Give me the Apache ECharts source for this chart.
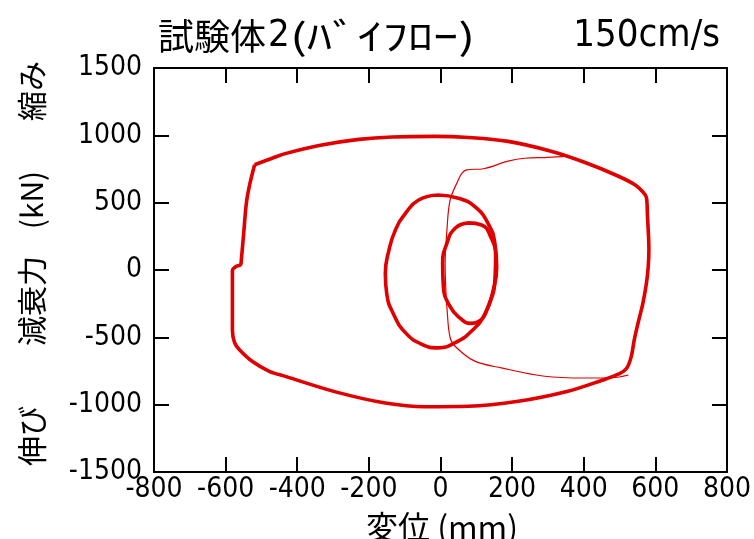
<!DOCTYPE html>
<html>
<head>
<meta charset="utf-8">
<script src="https://cdn.jsdelivr.net/npm/echarts@6/dist/echarts.min.js"></script>
<style>
  html, body { margin: 0; padding: 0; background: #fff; }
  #chart { width: 754px; height: 539px; }
</style>
</head>
<body>
<div id="chart"></div>
<script>
// Damping force vs. displacement, test piece 2
const xTicks = { min: -800, max: 800, step: 200 };
const yTicks = { min: -1500, max: 1500, step: 500 };

// Large-stroke loop [displacement mm, force kN]
const outerLoop = [
  [-519, 782], [-470, 830], [-431, 866], [-339, 925], [-228, 970], [-135, 988],
  [-15, 992], [78, 984], [189, 955], [309, 882], [402, 800], [494, 700],
  [545, 630], [565, 580], [575, 540], [578, 400], [582, 150], [580, 20],
  [575, -100], [565, -250], [553, -380], [541, -520], [533, -640], [520, -730],
  [500, -770], [448, -822], [356, -900], [217, -975], [78, -1012], [-43, -1015],
  [-154, -988], [-293, -905], [-431, -792], [-478, -752], [-525, -680],
  [-562, -590], [-575, -540], [-581, -450], [-581, -228], [-581, -4],
  [-572, 24], [-558, 40], [-556, 80], [-550, 258], [-542, 497], [-533, 632],
  [-519, 782]
];

// Medium-stroke loop
const middleLoop = [
  [-6, 557], [50, 533], [96, 470], [133, 345], [152, 196], [157, 21],
  [147, -153], [124, -328], [87, -453], [41, -540], [-6, -578], [-52, -552],
  [-98, -465], [-131, -328], [-150, -178], [-154, -28], [-144, 146],
  [-126, 296], [-98, 420], [-61, 520], [-6, 557]
];

// Small-stroke loop
const innerLoop = [
  [78, 350], [115, 334], [138, 260], [154, 99], [152, -74], [133, -272],
  [106, -383], [82, -396], [55, -358], [27, -272], [8, -124], [6, 50],
  [18, 198], [41, 310], [78, 350]
];

// Transition path between strokes
const transitionPath = [
  [356, 845], [300, 836], [235, 830], [189, 808], [120, 752], [73, 744],
  [60, 720], [50, 670], [27, 520], [18, 296], [13, 46], [15, -150],
  [18, -278], [27, -503], [45, -577], [96, -677], [170, -727], [291, -789],
  [402, -802], [480, -800], [525, -780]
];

const RED = '#e00000';
const NUM_FONT = "'DejaVu Sans Condensed', 'DejaVu Sans', sans-serif";
const JP_FONT = "'Noto Sans CJK JP', sans-serif";

const chart = echarts.init(document.getElementById('chart'), null, { renderer: 'canvas' });

function valueAxis(range, opts) {
  return Object.assign({
    type: 'value',
    min: range.min,
    max: range.max,
    interval: range.step,
    splitLine: { show: false },
    axisLine: { show: true, onZero: false, lineStyle: { color: '#000', width: 2 } },
    axisTick: { show: true, inside: true, length: 15, lineStyle: { color: '#000', width: 2 } },
    axisLabel: { show: false }
  }, opts);
}

function loopSeries(data, width, smooth) {
  return {
    type: 'line',
    data: data,
    showSymbol: false,
    smooth: smooth,
    silent: true,
    animation: false,
    lineStyle: { color: RED, width: width },
    z: 3
  };
}

const plainNumber = v => String(v);

chart.setOption({
  animation: false,
  backgroundColor: '#fff',
  grid: { left: 154, right: 23, top: 68, bottom: 67, containLabel: false },
  xAxis: [
    valueAxis(xTicks, {
      position: 'bottom',
      axisLabel: {
        show: true, margin: 4, color: '#000', formatter: plainNumber,
        fontFamily: NUM_FONT, fontSize: 28
      }
    }),
    valueAxis(xTicks, { position: 'top' })
  ],
  yAxis: [
    valueAxis(yTicks, {
      position: 'left',
      axisLabel: {
        show: true, margin: 12, color: '#000', formatter: plainNumber,
        fontFamily: NUM_FONT, fontSize: 28
      }
    }),
    valueAxis(yTicks, { position: 'right' })
  ],
  series: [
    loopSeries(outerLoop, 3.6, 0.35),
    loopSeries(middleLoop, 3.6, 0.5),
    loopSeries(innerLoop, 3.6, 0.5),
    loopSeries(transitionPath, 1.2, 0.35)
  ],
  graphic: [
    // chart heading
    { type: 'text', x: 158, y: 36,
      style: { text: '試験体', fontFamily: JP_FONT, fontSize: 36, fill: '#000', align: 'left', verticalAlign: 'middle' } },
    { type: 'text', x: 268, y: 36,
      style: { text: '2', fontFamily: NUM_FONT, fontSize: 38, fill: '#000', align: 'left', verticalAlign: 'middle' } },
    { type: 'text', x: 290, y: 36, scaleX: 1.4,
      style: { text: '(ﾊﾞｲﾌﾛｰ)', fontFamily: JP_FONT, fontSize: 36, fill: '#000', align: 'left', verticalAlign: 'middle' } },
    { type: 'text', x: 720, y: 36,
      style: { text: '150cm/s', fontFamily: NUM_FONT, fontSize: 38, fill: '#000', align: 'right', verticalAlign: 'middle' } },
    // vertical axis caption, read bottom to top
    { type: 'text', x: 32, y: 91, rotation: Math.PI / 2,
      style: { text: '縮み', fontFamily: JP_FONT, fontSize: 30, fill: '#000', align: 'center', verticalAlign: 'middle' } },
    { type: 'text', x: 32, y: 200, rotation: Math.PI / 2,
      style: { text: '(kN)', fontFamily: JP_FONT, fontSize: 30, fill: '#000', align: 'center', verticalAlign: 'middle' } },
    { type: 'text', x: 32, y: 301, rotation: Math.PI / 2,
      style: { text: '減衰力', fontFamily: JP_FONT, fontSize: 30, fill: '#000', align: 'center', verticalAlign: 'middle' } },
    { type: 'text', x: 32, y: 436, rotation: Math.PI / 2,
      style: { text: '伸び', fontFamily: JP_FONT, fontSize: 30, fill: '#000', align: 'center', verticalAlign: 'middle' } },
    // horizontal axis caption
    { type: 'text', x: 442, y: 527,
      style: { text: '変位 (mm)', fontFamily: JP_FONT, fontSize: 32, fill: '#000', align: 'center', verticalAlign: 'middle' } }
  ]
});
</script>
</body>
</html>
